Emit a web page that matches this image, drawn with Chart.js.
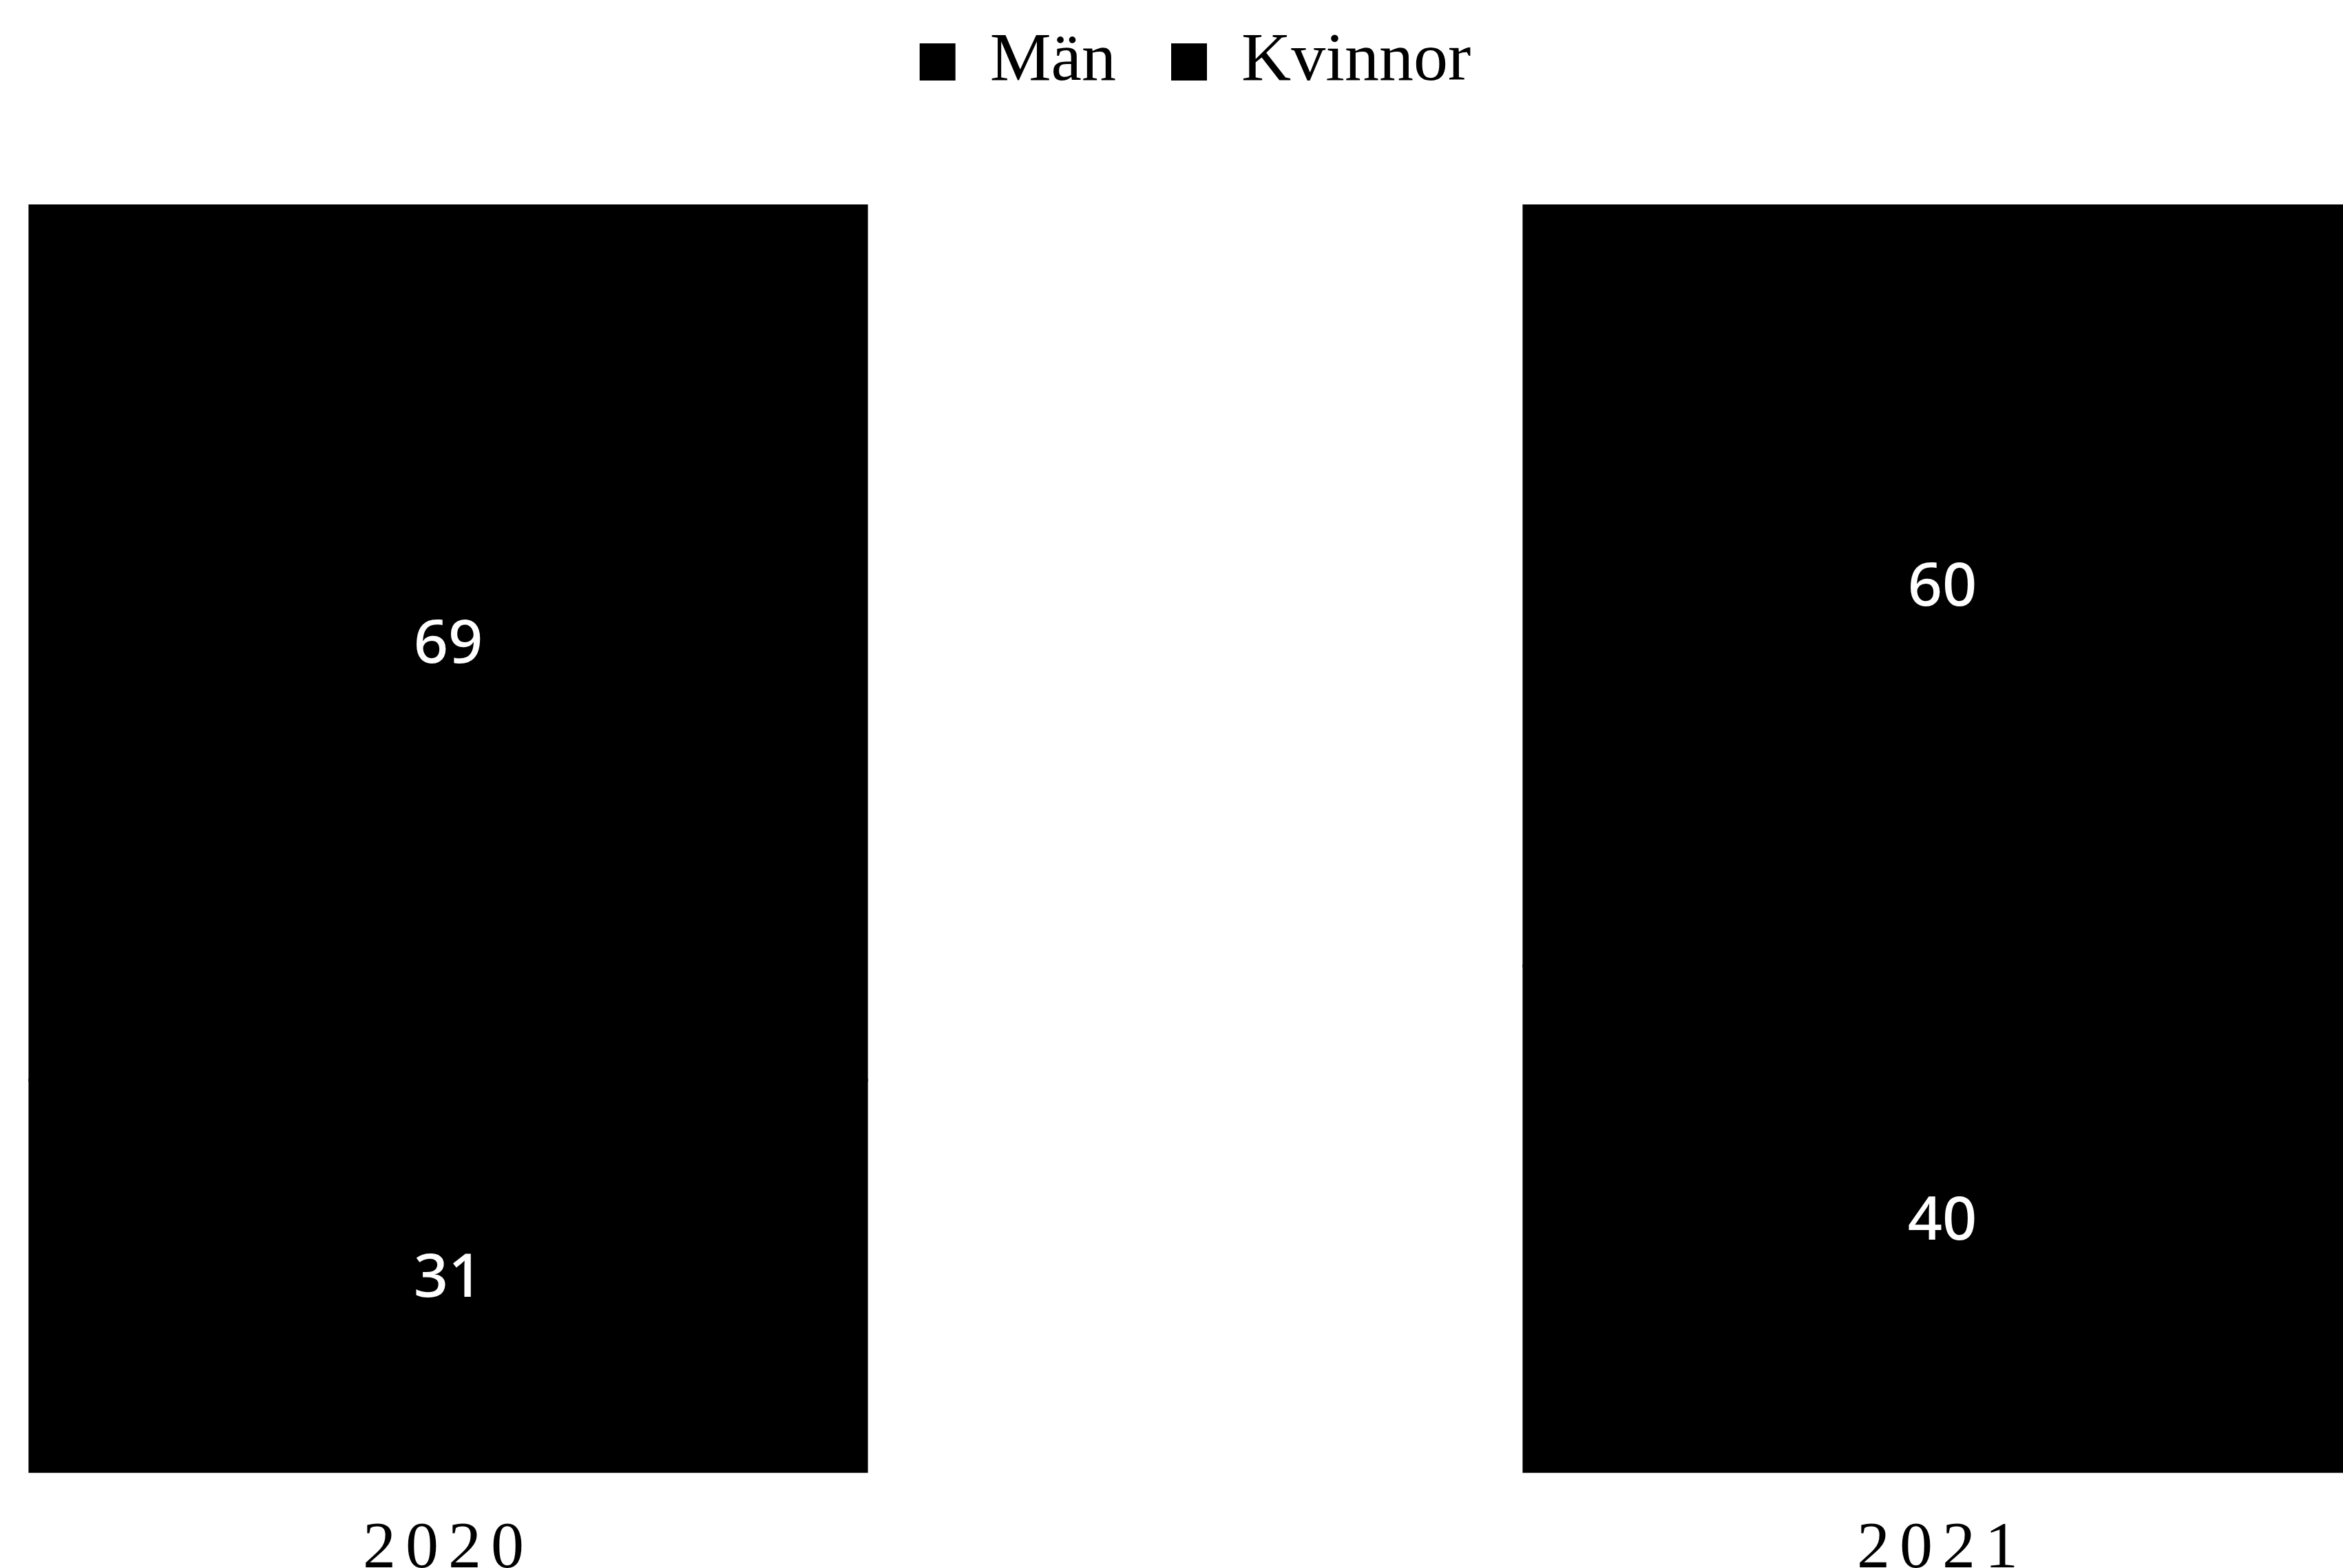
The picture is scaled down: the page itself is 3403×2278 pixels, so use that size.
<!DOCTYPE html>
<html>
<head>
<meta charset="utf-8">
<script src="https://cdn.jsdelivr.net/npm/chart.js@4.4.1/dist/chart.umd.min.js"></script>
<style>
  html, body { margin: 0; padding: 0; background: #fff; overflow: hidden; width: 3403px; height: 2278px; }
  /* the chart is wider than the window: the right bar is cut like in the scan */
  #wrap { position: absolute; left: -434px; top: 0; width: 4340px; height: 2363px; }
</style>
</head>
<body>
<div id="wrap"><canvas id="chart"></canvas></div>
<script>
const years = ['2020', '2021'];
const man = [31, 40];
const kvinnor = [69, 60];

// white numbers in the middle of each block, then spaced-out year labels
const valueLabels = {
  id: 'valueLabels',
  afterDatasetsDraw(chart) {
    const ctx = chart.ctx;
    ctx.save();
    ctx.fillStyle = '#fff';
    ctx.font = '500 88px "Noto Sans"';
    ctx.textAlign = 'center';
    ctx.textBaseline = 'middle';
    chart.data.datasets.forEach((ds, i) => {
      chart.getDatasetMeta(i).data.forEach((bar, j) => {
        const p = bar.getCenterPoint();
        ctx.fillText(ds.data[j], p.x, p.y + 4);
      });
    });
    ctx.restore();
    ctx.letterSpacing = '14px';
  },
  beforeDraw(chart) { chart.ctx.letterSpacing = '0px'; },
  afterDraw(chart) { chart.ctx.letterSpacing = '0px'; }
};

new Chart(document.getElementById('chart'), {
  type: 'bar',
  data: {
    labels: years,
    datasets: [
      { label: 'Män', data: man, backgroundColor: '#000', borderWidth: 0, inflateAmount: 2 },
      { label: 'Kvinnor', data: kvinnor, backgroundColor: '#000', borderWidth: 0, inflateAmount: 2 }
    ]
  },
  options: {
    responsive: true,
    maintainAspectRatio: false,
    devicePixelRatio: 1,
    animation: false,
    layout: { padding: { top: -40 } },
    datasets: { bar: { categoryPercentage: 1, barPercentage: 0.56 } },
    plugins: {
      tooltip: { enabled: false },
      legend: {
        position: 'top',
        labels: {
          color: '#000',
          boxWidth: 52,
          boxHeight: 54,
          padding: 80,
          font: { family: '"Liberation Serif"', size: 100 }
        }
      }
    },
    scales: {
      x: {
        stacked: true,
        grid: { display: false, drawTicks: false },
        border: { display: false },
        ticks: { z: 1, color: '#000', padding: 54, font: { family: '"Liberation Serif"', size: 96 } }
      },
      y: {
        stacked: true,
        display: false,
        min: 0,
        max: 108.1
      }
    }
  },
  plugins: [valueLabels]
});
</script>
</body>
</html>
